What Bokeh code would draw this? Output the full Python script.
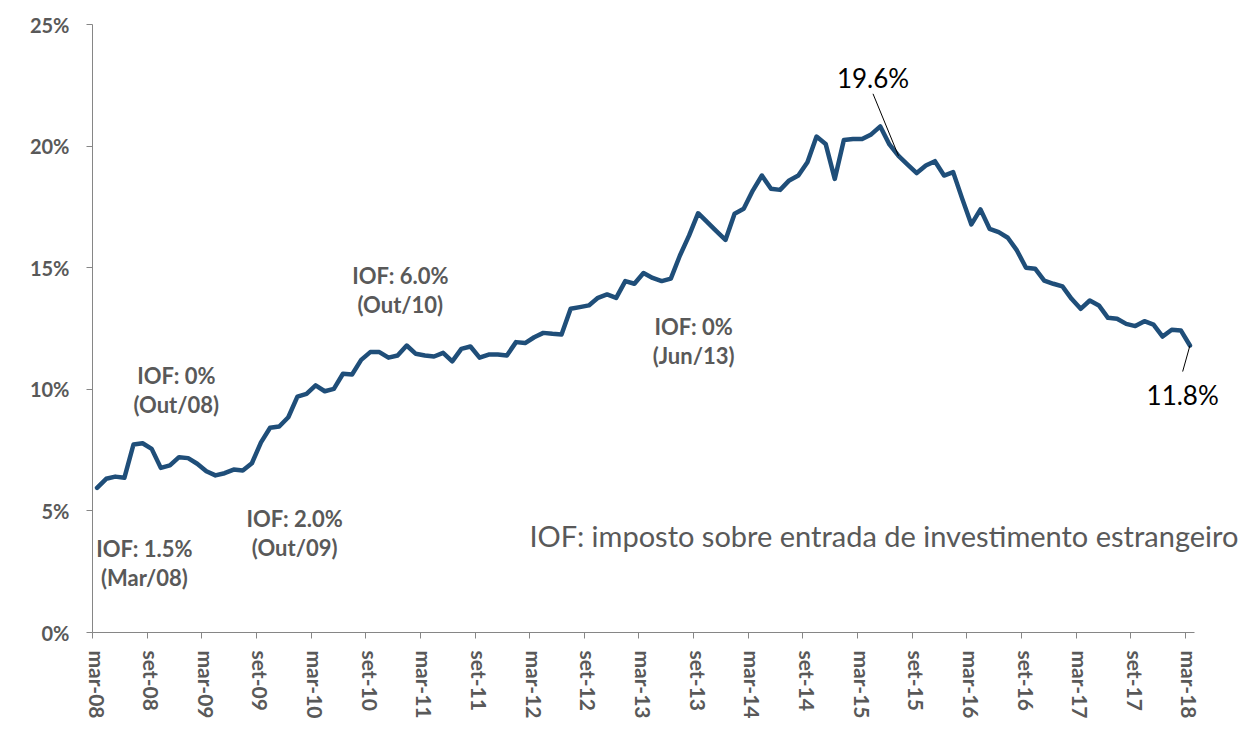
from bokeh.plotting import figure
from bokeh.models import Range1d, FixedTicker, Label
from bokeh.embed import file_html
from bokeh.resources import INLINE

# ---- data -------------------------------------------------------------
months = list(range(121))  # mar-08 ... mar-18, monthly
values = [
    5.95, 6.32, 6.41, 6.36, 7.73, 7.78, 7.55, 6.77, 6.87, 7.21, 7.17, 6.94,
    6.63, 6.46, 6.55, 6.70, 6.66, 6.96, 7.82, 8.42, 8.47, 8.85, 9.70, 9.81,
    10.16, 9.92, 10.02, 10.64, 10.61, 11.21, 11.53, 11.53, 11.30, 11.39, 11.80, 11.46,
    11.39, 11.35, 11.50, 11.15, 11.66, 11.76, 11.30, 11.43, 11.43, 11.39, 11.94, 11.90,
    12.14, 12.32, 12.28, 12.25, 13.31, 13.38, 13.45, 13.76, 13.90, 13.76, 14.45, 14.34,
    14.78, 14.58, 14.45, 14.55, 15.50, 16.32, 17.24, 16.87, 16.50, 16.14, 17.22, 17.42,
    18.17, 18.79, 18.25, 18.20, 18.59, 18.79, 19.34, 20.39, 20.09, 18.65, 20.25, 20.29,
    20.29, 20.48, 20.81, 20.07, 19.60, 19.24, 18.89, 19.20, 19.38, 18.79, 18.93, 17.83,
    16.78, 17.40, 16.60, 16.46, 16.23, 15.71, 15.00, 14.96, 14.47, 14.34, 14.23, 13.72,
    13.31, 13.65, 13.45, 12.94, 12.90, 12.69, 12.60, 12.80, 12.66, 12.17, 12.45, 12.42,
    11.80,
]
tick_labels = ["mar-08", "set-08", "mar-09", "set-09", "mar-10", "set-10", "mar-11",
               "set-11", "mar-12", "set-12", "mar-13", "set-13", "mar-14", "set-14",
               "mar-15", "set-15", "mar-16", "set-16", "mar-17", "set-17", "mar-18"]
tick_step = 6
y_ticks = [0, 5, 10, 15, 20, 25]
y_tick_labels = ["0%", "5%", "10%", "15%", "20%", "25%"]

# IOF annotations: (line1, line2, x-center in months, y of line1, y of line2)
iof_notes = [
    ("IOF: 1.5%", "(Mar/08)", 5.2, 3.45, 2.26),
    ("IOF: 0%", "(Out/08)", 8.7, 10.57, 9.38),
    ("IOF: 2.0%", "(Out/09)", 21.7, 4.69, 3.50),
    ("IOF: 6.0%", "(Out/10)", 33.3, 14.68, 13.49),
    ("IOF: 0%", "(Jun/13)", 65.5, 12.58, 11.39),
]
footnote = "IOF: imposto sobre entrada de investimento estrangeiro"
callouts = [  # (month index, label, label x, label y, leader end x, leader end y)
    (88, "19.6%", 85.2, 22.78, 85.2, 22.15),
    (120, "11.8%", 119.2, 9.75, 119.2, 10.73),
]

FONT = "Lato"
GREY = "#595959"
AXIS = "#868686"
BLUE = "#1F4E79"

p = figure(width=1250, height=726, output_backend="svg", toolbar_location=None,
           x_range=Range1d(-0.5, 126.1), y_range=Range1d(0, 25),
           min_border_left=92, min_border_right=5, min_border_top=24,
           min_border_bottom=94)
p.outline_line_color = None
p.xgrid.visible = False
p.ygrid.visible = False
p.background_fill_color = "white"

p.line(months, values, line_color=BLUE, line_width=4.5, line_join="round",
       line_cap="round")

# y axis
ya = p.yaxis[0]
ya.ticker = FixedTicker(ticks=y_ticks)
ya.major_label_overrides = {t: l for t, l in zip(y_ticks, y_tick_labels)}
ya.axis_line_color = AXIS
ya.major_tick_line_color = AXIS
ya.major_tick_out = 6
ya.major_tick_in = 0
ya.minor_tick_line_color = None
ya.major_label_text_font = FONT
ya.major_label_text_font_style = "bold"
ya.major_label_text_font_size = "20px"
ya.major_label_text_color = GREY
ya.major_label_standoff = 17

# x axis: labels at category centres, tick marks at category boundaries
xa = p.xaxis[0]
centres = [i * tick_step for i in range(len(tick_labels))]
xa.ticker = FixedTicker(ticks=centres, minor_ticks=[c - 0.5 for c in centres])
xa.major_label_overrides = {c: l for c, l in zip(centres, tick_labels)}
xa.bounds = (-0.5, 120.5)
xa.axis_line_color = AXIS
xa.major_tick_line_color = None
xa.major_tick_out = 0
xa.major_tick_in = 0
xa.minor_tick_line_color = AXIS
xa.minor_tick_out = 6
xa.minor_tick_in = 0
xa.major_label_orientation = "vertical"
xa.major_label_text_font = FONT
xa.major_label_text_font_style = "bold"
xa.major_label_text_font_size = "21px"
xa.major_label_text_color = GREY
xa.major_label_standoff = 12

for l1, l2, x, y1, y2 in iof_notes:
    for txt, yy in ((l1, y1), (l2, y2)):
        p.add_layout(Label(x=x, y=yy, text=txt, text_align="center",
                           text_baseline="middle", text_font=FONT,
                           text_font_style="bold", text_font_size="22px",
                           text_color=GREY))

p.add_layout(Label(x=86.4, y=3.99, text=footnote, text_align="center",
                   text_baseline="middle", text_font=FONT,
                   text_font_size="29px", text_color=GREY))

for idx, txt, lx, ly, ex, ey in callouts:
    p.segment(x0=[months[idx]], y0=[values[idx]], x1=[ex], y1=[ey],
              line_color="black", line_width=1)
    p.add_layout(Label(x=lx, y=ly, text=txt, text_align="center",
                       text_baseline="middle", text_font=FONT,
                       text_font_size="26px", text_color="black"))

open("out.html", "w").write(file_html(p, INLINE))
